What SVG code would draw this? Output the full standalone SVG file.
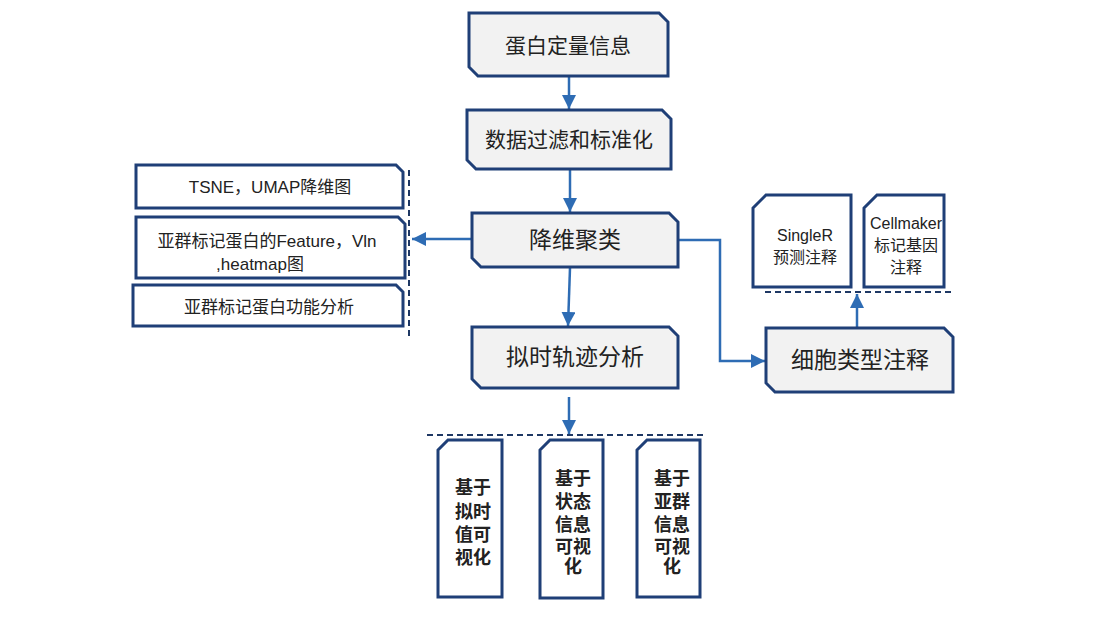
<svg xmlns="http://www.w3.org/2000/svg" width="1108" height="624" viewBox="0 0 1108 624">
<defs>
<style>
.main{fill:#f2f2f2;stroke:#1f3f77;stroke-width:3;stroke-linejoin:miter}
.sub{fill:#ffffff;stroke:#1f3f77;stroke-width:3;stroke-linejoin:miter}
.t{font-family:"Liberation Sans","Noto Sans CJK SC",sans-serif;fill:#222;text-anchor:middle;dominant-baseline:central}
.tm{font-size:21px}
.ts{font-size:16px}
.tl{font-size:17px}
.tv{font-size:18px;font-weight:bold}
.arr{fill:none;stroke:#2e6cb4;stroke-width:2.5;marker-end:url(#ah)}
.dash{fill:none;stroke:#1f3864;stroke-width:2;stroke-dasharray:6 4}
</style>
<marker id="ah" viewBox="0 0 12 12" refX="12" refY="6" markerWidth="14" markerHeight="14" markerUnits="userSpaceOnUse" orient="auto">
<path d="M0,0 L12,6 L0,12 Z" fill="#2e6cb4"/>
</marker>
</defs>
<rect width="1108" height="624" fill="#ffffff"/>
<g id="connectors">
<line class="arr" x1="569" y1="77" x2="569" y2="109"/>
<line class="arr" x1="570" y1="170" x2="570" y2="212"/>
<line class="arr" x1="570" y1="268" x2="568" y2="326"/>
<line class="arr" x1="569" y1="397" x2="569" y2="434"/>
<line class="arr" x1="471" y1="239" x2="412" y2="239"/>
<polyline class="arr" points="679,240 720,240 720,361 765,361"/>
<line class="arr" x1="857" y1="327" x2="857" y2="294"/>
<line class="dash" x1="409" y1="170" x2="409" y2="340"/>
<line class="dash" x1="427" y1="435" x2="703" y2="435"/>
<line class="dash" x1="765" y1="292" x2="952" y2="292"/>
</g>
<g id="n1">
<path class="main" d="M469,13 H659 L668,22 V76 H478 L469,67 Z"/>
<text class="t tm" x="568" y="45">蛋白定量信息</text>
</g>
<g id="n2">
<path class="main" d="M467,110 H662 L671,119 V169 H476 L467,160 Z"/>
<text class="t tm" x="569" y="139">数据过滤和标准化</text>
</g>
<g id="n3">
<path class="main" d="M472,213 H669 L678,222 V267 H481 L472,258 Z"/>
<text class="t tm" x="575" y="240" style="font-size:23px">降维聚类</text>
</g>
<g id="n4">
<path class="main" d="M472,327 H669 L678,336 V388 H481 L472,379 Z"/>
<text class="t tm" x="575" y="357" style="font-size:23px">拟时轨迹分析</text>
</g>
<g id="n5">
<path class="main" d="M766,328 H944 L953,337 V392 H775 L766,383 Z"/>
<text class="t tm" x="860" y="360" style="font-size:23px">细胞类型注释</text>
</g>
<g id="l1">
<path class="sub" d="M136,165 H396 L403,172 V208 H136 Z"/>
<text class="t tl" x="270" y="187">TSNE，UMAP降维图</text>
</g>
<g id="l2">
<path class="sub" d="M136,217 H398 L405,224 V278 H136 Z"/>
<text class="t tl" x="267" y="241">亚群标记蛋白的Feature，Vln</text>
<text class="t tl" x="260" y="264">,heatmap图</text>
</g>
<g id="l3">
<path class="sub" d="M133,285 H396 L403,292 V326 H133 Z"/>
<text class="t tl" x="269" y="307">亚群标记蛋白功能分析</text>
</g>
<g id="r1">
<path class="sub" d="M753,208 L766,195 H851 V287 H753 Z"/>
<text class="t ts" x="805" y="235">SingleR</text>
<text class="t ts" x="805" y="257">预测注释</text>
</g>
<g id="r2">
<path class="sub" d="M864,208 L877,195 H944 V287 H864 Z"/>
<text class="t ts" x="906" y="223">Cellmaker</text>
<text class="t ts" x="906" y="245">标记基因</text>
<text class="t ts" x="906" y="267">注释</text>
</g>
<g id="v1">
<path class="sub" d="M438,450 L448,440 H502 V597 H438 Z"/>
<text class="t tv" x="473" y="488">基于</text>
<text class="t tv" x="473" y="512">拟时</text>
<text class="t tv" x="473" y="535">值可</text>
<text class="t tv" x="473" y="558">视化</text>
</g>
<g id="v2">
<path class="sub" d="M540,450 L550,440 H603 V598 H540 Z"/>
<text class="t tv" x="573" y="479">基于</text>
<text class="t tv" x="573" y="502">状态</text>
<text class="t tv" x="573" y="525">信息</text>
<text class="t tv" x="573" y="547">可视</text>
<text class="t tv" x="573" y="567">化</text>
</g>
<g id="v3">
<path class="sub" d="M637,450 L647,440 H700 V597 H637 Z"/>
<text class="t tv" x="672" y="479">基于</text>
<text class="t tv" x="672" y="502">亚群</text>
<text class="t tv" x="672" y="525">信息</text>
<text class="t tv" x="672" y="547">可视</text>
<text class="t tv" x="672" y="567">化</text>
</g>
</svg>
